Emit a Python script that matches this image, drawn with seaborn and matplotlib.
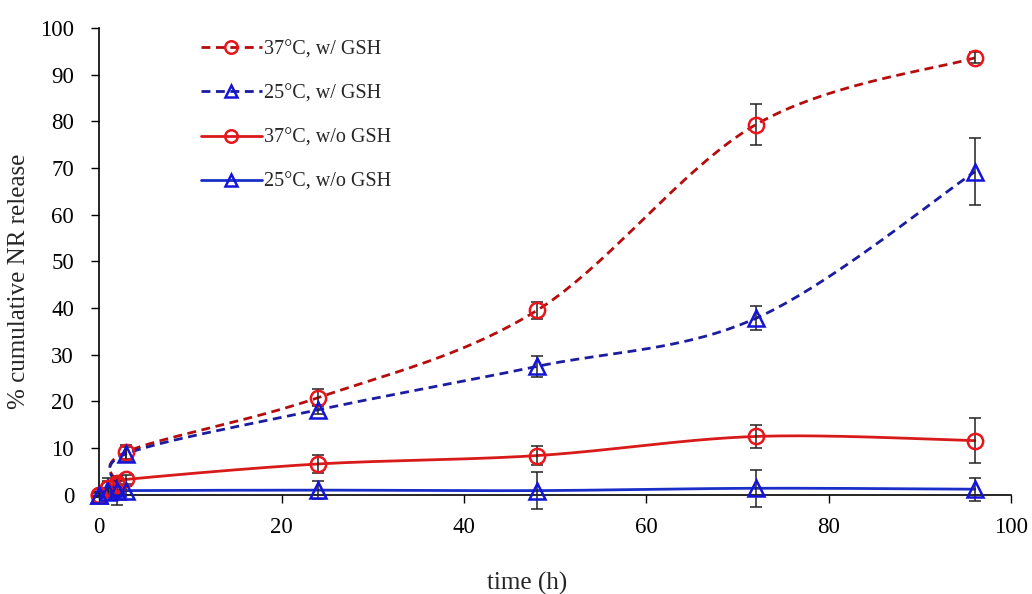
import numpy as np
import pandas as pd
import seaborn as sns
import matplotlib
matplotlib.use("Agg")
import matplotlib.pyplot as plt
from matplotlib.lines import Line2D

# ---- data ----
time_h = [0, 1, 2, 3, 24, 48, 72, 96]
rel_37_w = [0, 1.5, 2.0, 9.2, 20.8, 39.5, 79.3, 93.6]
err_37_w = [0.5, 2.0, 1.5, 1.5, 1.8, 1.9, 4.3, 1.2]
rel_25_w = [0, 1.2, 1.5, 8.8, 18.2, 27.5, 37.8, 69.2]
err_25_w = [0.5, 1.5, 1.5, 1.5, 1.0, 2.2, 2.6, 7.2]
rel_37_wo = [0, 1.5, 2.5, 3.3, 6.6, 8.4, 12.5, 11.6]
err_37_wo = [0.5, 1.5, 1.5, 1.0, 2.0, 2.0, 2.5, 4.8]
rel_25_wo = [0, 0.5, 0.8, 0.9, 1.0, 0.9, 1.4, 1.2]
err_25_wo = [0.3, 1.0, 3.0, 1.0, 2.0, 4.0, 4.0, 2.5]
labels = ["37°C, w/ GSH", "25°C, w/ GSH", "37°C, w/o GSH", "25°C, w/o GSH"]

sns.set_theme(style="ticks")
plt.rcParams['font.family'] = ['Liberation Serif', 'DejaVu Serif']

fig = plt.figure(figsize=(10.32, 5.94), dpi=100)
ax = fig.add_axes([0.096, 0.167, 0.884, 0.786])


def smooth(x, y, n=40):
    """Excel-like parametric Bezier smoothing (rendering only)."""
    P = np.column_stack([x, y]).astype(float)
    m = len(P)
    xs, ys = [], []
    for i in range(m - 1):
        p0 = P[i - 1] if i > 0 else P[i]
        p1, p2 = P[i], P[i + 1]
        p3 = P[i + 2] if i + 2 < m else P[i + 1]
        c1 = p1 + (p2 - p0) / 6.0
        c2 = p2 - (p3 - p1) / 6.0
        t = np.linspace(0, 1, n)[:, None]
        B = ((1 - t) ** 3) * p1 + 3 * ((1 - t) ** 2) * t * c1 + 3 * (1 - t) * t ** 2 * c2 + t ** 3 * p2
        xs.extend(B[:, 0]); ys.extend(B[:, 1])
    return np.array(xs), np.array(ys)


series = [
    (rel_37_w, err_37_w, "#b50d0d", "#e8161c", "o", (3.2, 2.0), 2.0),
    (rel_25_w, err_25_w, "#1c1ca0", "#1414d8", "^", (3.2, 2.0), 2.0),
    (rel_37_wo, err_37_wo, "#d81a1a", "#e8161c", "o", None, 2.0),
    (rel_25_wo, err_25_wo, "#1a2fc8", "#1414d8", "^", None, 2.0),
]

handles = []
for (vals, errs, lc, mc, mk, dash, lw), lab in zip(series, labels):
    sx, sy = smooth(time_h, vals)
    df = pd.DataFrame({"x": sx, "y": sy})
    sns.lineplot(data=df, x="x", y="y", sort=False, estimator=None, ax=ax,
                 color=lc, linewidth=lw, zorder=3)
    line = ax.lines[-1]
    if dash:
        line.set_dashes(dash)
    line.set_clip_on(False)
    ax.errorbar(time_h, vals, yerr=errs, fmt="none", ecolor="#222222",
                elinewidth=1.1, capsize=4, capthick=1.1, zorder=4, clip_on=False)
    ax.plot(time_h, vals, linestyle="none", marker=mk, markersize=11,
            markerfacecolor="none", markeredgecolor=mc, markeredgewidth=1.8,
            zorder=5, clip_on=False)
    h = Line2D([0], [0], color=lc, linewidth=lw, marker=mk, markersize=9,
               markerfacecolor="none", markeredgecolor=mc, markeredgewidth=1.8,
               linestyle=(0, dash) if dash else "-")
    handles.append(h)

ax.set_xlim(0, 100)
ax.set_ylim(0, 100)
ax.set_xticks(range(0, 101, 20))
ax.set_yticks(range(0, 101, 10))
ax.tick_params(axis="both", labelsize=16.5, direction="out", length=6, width=1, colors="black")
ax.tick_params(axis="y", pad=12)
ax.tick_params(axis="x", pad=10)
for s in ["top", "right"]:
    ax.spines[s].set_visible(False)
for s in ["left", "bottom"]:
    ax.spines[s].set_color("black")
    ax.spines[s].set_linewidth(1.2)
ax.set_xlabel("time (h)", fontsize=18)
ax.set_ylabel("% cumulative NR release", fontsize=18)
ax.xaxis.set_label_coords(0.469, -0.165)
ax.yaxis.set_label_coords(-0.076, 0.458)

leg = ax.legend(handles=handles, labels=labels, loc="upper left",
                bbox_to_anchor=(0.092, 1.013), frameon=False, fontsize=14.5,
                handlelength=3.0, labelspacing=1.25, handletextpad=0.1)

fig.savefig("out.png", dpi=100)
